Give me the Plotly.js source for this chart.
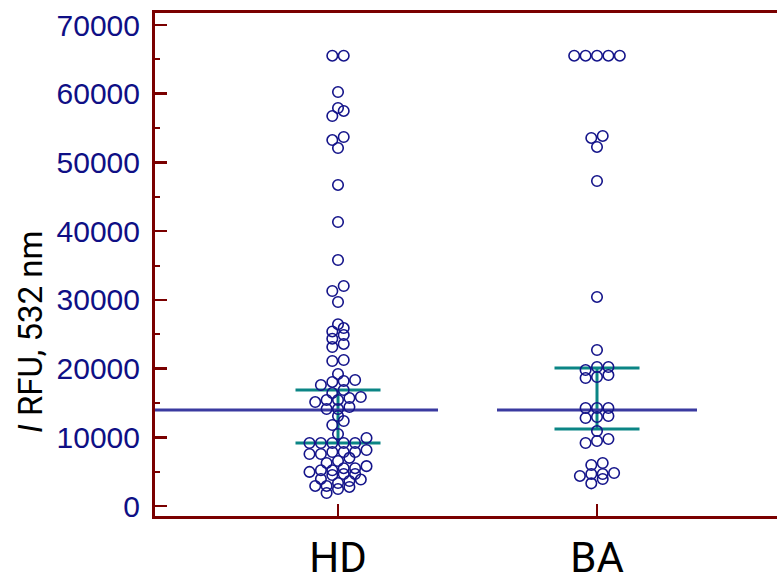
<!DOCTYPE html>
<html>
<head>
<meta charset="utf-8">
<script src="https://cdn.plot.ly/plotly-3.0.1.min.js"></script>
<style>html,body{margin:0;padding:0;background:#fff;}#chart{width:777px;height:585px;}</style>
</head>
<body>
<div id="chart"></div>
<script>
// ---- data (RFU) ----
const categories = ['HD', 'BA'];
const hdValues = [
  1890, 2470, 2770,
  2920, 2920, 3350, 3640, 3850,
  3940, 4510, 4660, 4660,
  4960, 5200, 5200, 5500, 5500, 5800,
  6260, 6550, 7000,
  7570, 7570, 7860, 7860, 7860, 8150,
  9170, 9170, 9170, 9170, 9170, 9900,
  10480,
  11790, 12370,
  13100,
  14120, 14120, 14410,
  15130, 15430, 15430, 15720, 15860,
  16440, 16880,
  17610, 18050, 18190, 18340,
  19210,
  21100, 21250,
  23140, 23580,
  24350, 24880,
  25400, 25900,
  26450,
  29690,
  31290, 32020,
  35800,
  41330,
  46720,
  52100,
  53260, 53700,
  56760, 57490,
  57920,
  60250,
  65535, 65535
];
const baValues = [
  3300, 3930,
  4370, 4660, 4660, 4800,
  5970, 6260,
  9170, 9460, 9750,
  10910,
  12810, 12950, 13100,
  14260, 14260, 14260,
  18630, 18770, 19060,
  19790, 20230, 20230,
  22700,
  30420,
  47300,
  52250,
  53560, 53850,
  65535, 65535, 65535, 65535, 65535
];
const medians = [13970, 13970];
const ciLow = [9170, 11200];
const ciHigh = [16880, 20080];
const yTickVals = [0, 10000, 20000, 30000, 40000, 50000, 60000, 70000];

// ---- layout constants ----
const W = 777, H = 585;
const M = {l: 155, r: 0, t: 13, b: 69};
const xRange = [-0.7066, 1.695];
const yRange = [-1455, 71746];
const plotW = W - M.l - M.r;
const pxPerUnit = plotW / (xRange[1] - xRange[0]);
const slotPx = 11.4;      // horizontal spacing of dots in a row
const rowBin = 1000;      // values closer than this share a row
const medHalf = 100 / pxPerUnit;
const ciHalf = 42.5 / pxPerUnit;

const NAVY = '#14148a';
const MAROON = '#7a0000';
const TEAL = '#0b8585';
const MEDC = '#3a3aa0';

function swarm(values, center) {
  const sorted = values.slice().sort((a, b) => a - b);
  const rows = [];
  let cur = null;
  sorted.forEach(v => {
    if (!cur || v - cur[0] >= rowBin) { cur = [v]; rows.push(cur); }
    else cur.push(v);
  });
  const xs = [], ys = [];
  rows.forEach(r => r.forEach((v, i) => {
    xs.push(center + (i - (r.length - 1) / 2) * slotPx / pxPerUnit);
    ys.push(v);
  }));
  return {xs, ys};
}

const groups = [hdValues, baValues];
const traces = [];

groups.forEach((vals, gi) => {
  const c = gi;
  // CI lines (horizontal low/high + vertical connector)
  traces.push({
    type: 'scatter', mode: 'lines', hoverinfo: 'skip',
    x: [c - ciHalf, c + ciHalf, null, c - ciHalf, c + ciHalf, null, c, c],
    y: [ciLow[gi], ciLow[gi], null, ciHigh[gi], ciHigh[gi], null, ciLow[gi], ciHigh[gi]],
    line: {color: TEAL, width: 3}
  });
  // median line
  const left = gi === 0 ? xRange[0] : c - medHalf;
  traces.push({
    type: 'scatter', mode: 'lines', hoverinfo: 'skip',
    x: [left, c + medHalf],
    y: [medians[gi], medians[gi]],
    line: {color: MEDC, width: 3}
  });
  const s = swarm(vals, c);
  traces.push({
    type: 'scatter', mode: 'markers', name: categories[gi],
    x: s.xs, y: s.ys,
    marker: {symbol: 'circle-open', size: 10.5, color: NAVY, line: {width: 1.6, color: NAVY}}
  });
});

const layout = {
  width: W, height: H,
  margin: M,
  paper_bgcolor: '#ffffff', plot_bgcolor: '#ffffff',
  showlegend: false,
  xaxis: {
    range: xRange, tickmode: 'array', tickvals: [0, 1], ticktext: categories,
    ticks: 'inside', ticklen: 12, tickwidth: 2.5, tickcolor: MAROON,
    showline: true, linecolor: MAROON, linewidth: 3, mirror: true,
    showgrid: false, zeroline: false,
    tickfont: {family: 'Roboto, sans-serif', size: 42, color: '#000000'},
    ticklabelstandoff: 3
  },
  yaxis: {
    range: yRange, tickmode: 'array', tickvals: yTickVals,
    ticktext: yTickVals.map(String),
    ticks: 'inside', ticklen: 12, tickwidth: 2.5, tickcolor: MAROON,
    minor: {ticks: 'inside', ticklen: 5, tickwidth: 2, tickcolor: MAROON, tickvals: [5000, 15000, 25000, 35000, 45000, 55000, 65000]},
    showline: true, linecolor: MAROON, linewidth: 3,
    showgrid: false, zeroline: false,
    tickfont: {family: '"Liberation Sans", Arial, sans-serif', size: 30, color: '#0f0f85'},
    ticklabelstandoff: 6
  },
  annotations: [{
    xref: 'paper', yref: 'paper',
    x: (30 - M.l) / plotW, y: (H - M.b - 332) / (H - M.t - M.b),
    xanchor: 'center', yanchor: 'middle',
    text: '<i>I</i> RFU, 532 nm', textangle: -90, showarrow: false,
    font: {family: 'Roboto, sans-serif', size: 33, color: '#000000'}
  }]
};

Plotly.newPlot('chart', traces, layout, {staticPlot: true, displayModeBar: false});
</script>
</body>
</html>
